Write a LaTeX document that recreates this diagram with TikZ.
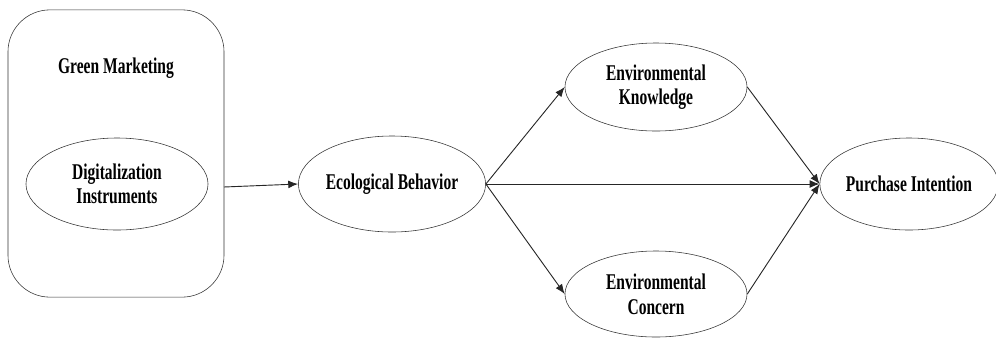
\documentclass[tikz,border=0pt]{standalone}
\usepackage{fontspec}
\setmainfont{Liberation Serif}[FakeStretch=0.69]
\usetikzlibrary{shapes.geometric,arrows.meta}

\tikzset{
  construct/.style={draw=black!80, ellipse, inner sep=0pt, align=center,
    minimum width=4.55cm, minimum height=2.3cm, font=\fontsize{16}{17.5}\selectfont\bfseries},
  link/.style={-{Latex[length=7pt,width=5.5pt]}, draw=black!85, line width=.65pt}
}

\begin{document}
\begin{tikzpicture}[x=0.025cm, y=-0.025cm]
    \useasboundingbox (0,0) rectangle (996,338);

    \node (gm) [draw=black!80, rounded corners=1.05cm, minimum width=5.4cm, minimum height=7.18cm] at (116,153.5) {};
    \node (gmtitle) at (116,68) [font=\fontsize{16}{17.5}\selectfont\bfseries] {Green Marketing};
    \node (dig) [construct] at (117,184) {Digitalization\\Instruments};

    \node (eco) [construct, minimum height=2.4cm] at (392,184) {Ecological Behavior};
    \node (ek) [construct, minimum height=2.2cm] at (656,87) {Environmental\\Knowledge};
    \node (ec) [construct, minimum height=2.15cm] at (656,294) {Environmental\\Concern};
    \node (pi) [construct, minimum width=4.35cm] at (909,184) {Purchase Intention};

    \coordinate (gmout) at (224,187);

    \draw [link] (gmout) -- (eco.west);
    \draw [link] (eco.east) -- (ek.west);
    \draw [link] (eco.east) -- (ec.west);
    \draw [link] (eco.east) -- (pi.west);
    \draw [link] (ek.east) -- (pi.west);
    \draw [link] (ec.east) -- (pi.west);
  \end{tikzpicture}
\end{document}
